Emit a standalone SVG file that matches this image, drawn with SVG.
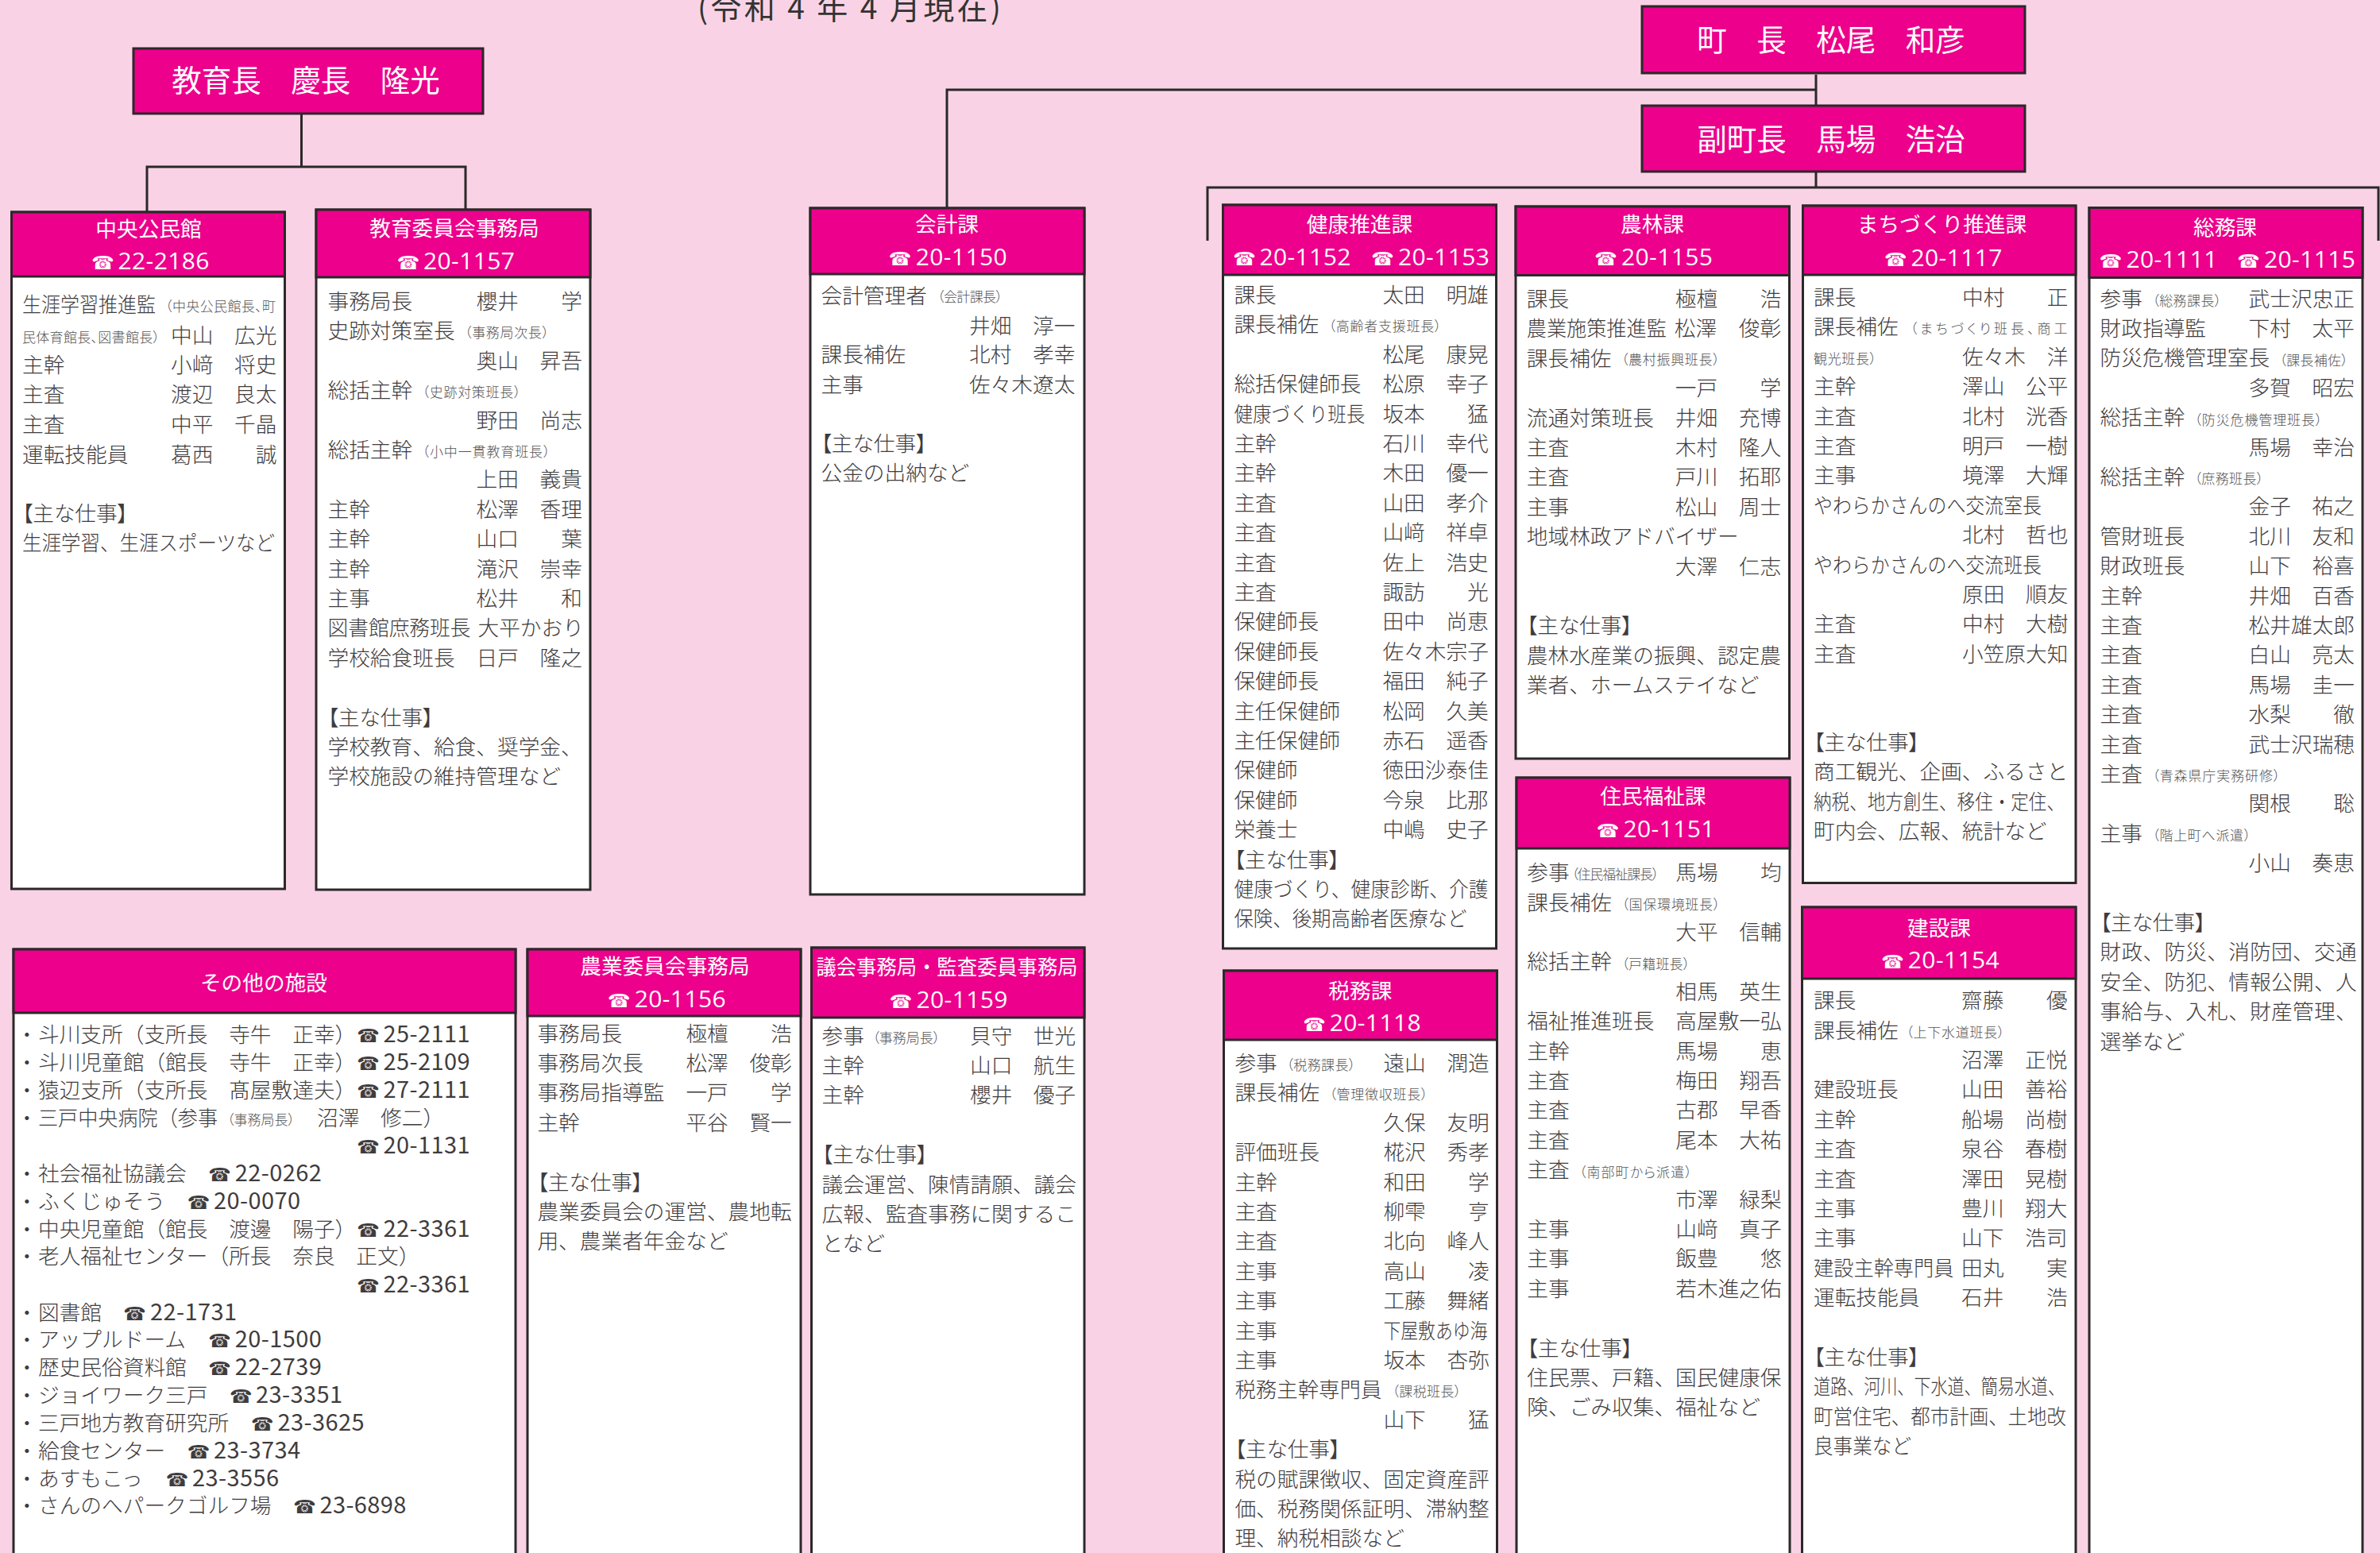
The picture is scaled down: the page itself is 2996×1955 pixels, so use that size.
<svg xmlns="http://www.w3.org/2000/svg" width="2996" height="1955" viewBox="0 0 2996 1955">
<style>
text{font-family:"Noto Sans CJK JP","Noto Sans",sans-serif}
.bg{fill:#f9d3e5}
.h{fill:#ec008c;stroke:#2b2829;stroke-width:3}
.w{fill:#fff;stroke:#2b2829;stroke-width:3}
.c{fill:none;stroke:#2b2829;stroke-width:3}
.top{font-size:37.5px;fill:#fff;text-anchor:middle}
.n{font-size:26.7px;fill:#fff;text-anchor:middle}
.p{font-size:30px;fill:#fff;font-family:"Open Sans","Noto Sans",sans-serif;letter-spacing:.4px}
.t{font-family:"DejaVu Sans",sans-serif;font-size:23px}
.b{font-size:26.7px;fill:#3f3c3d;font-weight:300}
.s{font-size:17px;fill:#555;font-feature-settings:"palt"}
.m{font-feature-settings:"palt"}
.q{font-size:29px;fill:#3f3c3d;font-family:"Open Sans","Noto Sans",sans-serif;letter-spacing:.4px}
</style>
<rect class="bg" width="2996" height="1955"/>
<g id="connectors">
<path class="c" d="M379.5 143V210M185 267V210H586V264"/>
<path class="c" d="M2286 94V133M2286 113H1192V262"/>
<path class="c" d="M2286 216V236M1520 303V236H2994V303"/>
</g>
<g id="title"><text x="878" y="24" font-size="39" fill="#333" textLength="382">(令和 4 年 4 月現在)</text></g>
<g id="kyoikucho"><rect class="h" x="168" y="61" width="440" height="82"/><text class="top" x="385" y="115">教育長　慶長　隆光</text></g>
<g id="chocho"><rect class="h" x="2067" y="8" width="482" height="84"/><text class="top" x="2305" y="64">町　長　松尾　和彦</text></g>
<g id="fukuchocho"><rect class="h" x="2067" y="133" width="482" height="83"/><text class="top" x="2305" y="189">副町長　馬場　浩治</text></g>

<g id="chuo-kominkan"><rect class="w" x="14.5" y="267" width="344" height="852"/><rect class="h" x="14.5" y="267" width="344" height="81"/>
<text class="n" x="187" y="298">中央公民館</text><text class="p" y="339"><tspan class="t" x="115">☎</tspan><tspan x="148.5">22-2186</tspan></text>
<g class="b" transform="translate(28,0)">
<text y="393"><tspan textLength="168" lengthAdjust="spacingAndGlyphs">生涯学習推進監</tspan></text><text class="s" x="180" y="392" textLength="139">（中央公民館長、町</text>
<text class="s" y="431" textLength="173">民体育館長、図書館長）</text><text y="432"><tspan x="187">中山</tspan><tspan x="267">広光</tspan></text>
<text y="469">主幹<tspan x="187">小﨑</tspan><tspan x="267">将史</tspan></text>
<text y="506">主査<tspan x="187">渡辺</tspan><tspan x="267">良太</tspan></text>
<text y="544">主査<tspan x="187">中平</tspan><tspan x="267">千晶</tspan></text>
<text y="582">運転技能員<tspan x="187">葛西</tspan><tspan x="293.7">誠</tspan></text>
<text class="m" y="656">【主な仕事】</text>
<text y="693" textLength="318" lengthAdjust="spacingAndGlyphs">生涯学習、生涯スポーツなど</text>
</g></g>

<g id="kyoiku-iinkai"><rect class="w" x="398" y="264" width="345" height="856"/><rect class="h" x="398" y="264" width="345" height="85"/>
<text class="n" x="572" y="297">教育委員会事務局</text><text class="p" y="339"><tspan class="t" x="499.5">☎</tspan><tspan x="533">20-1157</tspan></text>
<g class="b" transform="translate(412.5,-1)">
<text y="390">事務局長<tspan x="187">櫻井</tspan><tspan x="293.7">学</tspan></text>
<text y="427.4">史跡対策室長</text><text class="s" x="172.5" y="426" textLength="106">（事務局次長）</text>
<text y="464.8"><tspan x="187">奥山</tspan><tspan x="267">昇吾</tspan></text>
<text y="502.2">総括主幹</text><text class="s" x="119" y="501" textLength="124">（史跡対策班長）</text>
<text y="539.6"><tspan x="187">野田</tspan><tspan x="267">尚志</tspan></text>
<text y="577">総括主幹</text><text class="s" x="119" y="576" textLength="161">（小中一貫教育班長）</text>
<text y="614.4"><tspan x="187">上田</tspan><tspan x="267">義貴</tspan></text>
<text y="651.8">主幹<tspan x="187">松澤</tspan><tspan x="267">香理</tspan></text>
<text y="689.2">主幹<tspan x="187">山口</tspan><tspan x="293.7">葉</tspan></text>
<text y="726.6">主幹<tspan x="187">滝沢</tspan><tspan x="267">崇幸</tspan></text>
<text y="764">主事<tspan x="187">松井</tspan><tspan x="293.7">和</tspan></text>
<text y="801.4"><tspan textLength="180" lengthAdjust="spacingAndGlyphs">図書館庶務班長</tspan><tspan x="189">大平かおり</tspan></text>
<text y="838.8">学校給食班長<tspan x="187">日戸</tspan><tspan x="267">隆之</tspan></text>
<text class="m" y="913.6">【主な仕事】</text>
<text y="951">学校教育、給食、奨学金、</text>
<text y="988.4">学校施設の維持管理など</text>
</g></g>

<g id="kaikei"><rect class="w" x="1020" y="262" width="345" height="864"/><rect class="h" x="1020" y="262" width="345" height="83"/>
<text class="n" x="1192" y="292">会計課</text><text class="p" y="334"><tspan class="t" x="1118.5">☎</tspan><tspan x="1152.7">20-1150</tspan></text>
<g class="b" transform="translate(1033.5,-1)">
<text y="382.5">会計管理者</text><text class="s" x="146.5" y="381" textLength="82">（会計課長）</text>
<text y="421"><tspan x="186.5">井畑</tspan><tspan x="266.5">淳一</tspan></text>
<text y="456.5">課長補佐<tspan x="186.5">北村</tspan><tspan x="266.5">孝幸</tspan></text>
<text y="495">主事<tspan x="186.5">佐々木遼太</tspan></text>
<text class="m" y="569">【主な仕事】</text>
<text y="606">公金の出納など</text>
</g></g>

<g id="kenko"><rect class="w" x="1539.5" y="258" width="344" height="936"/><rect class="h" x="1539.5" y="258" width="344" height="88"/>
<text class="n" x="1711.5" y="292">健康推進課</text><text class="p" y="334"><tspan class="t" x="1552">☎</tspan><tspan x="1585.4">20-1152</tspan><tspan class="t" x="1726">☎</tspan><tspan x="1760">20-1153</tspan></text>
<g class="b" transform="translate(1553.4,-1)">
<text y="382">課長<tspan x="187">太田</tspan><tspan x="267">明雄</tspan></text>
<text y="419.4">課長補佐</text><text class="s" x="119" y="418" textLength="142">（高齢者支援班長）</text>
<text y="456.8"><tspan x="187">松尾</tspan><tspan x="267">康晃</tspan></text>
<text y="494.2">総括保健師長<tspan x="187">松原</tspan><tspan x="267">幸子</tspan></text>
<text y="531.6"><tspan textLength="165" lengthAdjust="spacingAndGlyphs">健康づくり班長</tspan><tspan x="187">坂本</tspan><tspan x="293.7">猛</tspan></text>
<text y="569">主幹<tspan x="187">石川</tspan><tspan x="267">幸代</tspan></text>
<text y="606.4">主幹<tspan x="187">木田</tspan><tspan x="267">優一</tspan></text>
<text y="643.8">主査<tspan x="187">山田</tspan><tspan x="267">孝介</tspan></text>
<text y="681.2">主査<tspan x="187">山﨑</tspan><tspan x="267">祥卓</tspan></text>
<text y="718.6">主査<tspan x="187">佐上</tspan><tspan x="267">浩史</tspan></text>
<text y="756">主査<tspan x="187">諏訪</tspan><tspan x="293.7">光</tspan></text>
<text y="793.4">保健師長<tspan x="187">田中</tspan><tspan x="267">尚恵</tspan></text>
<text y="830.8">保健師長<tspan x="187">佐々木宗子</tspan></text>
<text y="868.2">保健師長<tspan x="187">福田</tspan><tspan x="267">純子</tspan></text>
<text y="905.6">主任保健師<tspan x="187">松岡</tspan><tspan x="267">久美</tspan></text>
<text y="943">主任保健師<tspan x="187">赤石</tspan><tspan x="267">遥香</tspan></text>
<text y="980.4">保健師<tspan x="187">徳田沙泰佳</tspan></text>
<text y="1017.8">保健師<tspan x="187">今泉</tspan><tspan x="267">比那</tspan></text>
<text y="1055.2">栄養士<tspan x="187">中嶋</tspan><tspan x="267">史子</tspan></text>
<text class="m" y="1092.6">【主な仕事】</text>
<text y="1130" textLength="320" lengthAdjust="spacingAndGlyphs">健康づくり、健康診断、介護</text>
<text y="1167.4" textLength="293" lengthAdjust="spacingAndGlyphs">保険、後期高齢者医療など</text>
</g></g>

<g id="zeimu"><rect class="w" x="1540.5" y="1222" width="344" height="745"/><rect class="h" x="1540.5" y="1222" width="344" height="87"/>
<text class="n" x="1712.4" y="1257">税務課</text><text class="p" y="1297.5"><tspan class="t" x="1640">☎</tspan><tspan x="1673.7">20-1118</tspan></text>
<g class="b" transform="translate(1554.4,-1)">
<text y="1349">参事<tspan x="187">遠山</tspan><tspan x="267">潤造</tspan></text><text class="s" x="65" y="1348" textLength="87">（税務課長）</text>
<text y="1386.4">課長補佐</text><text class="s" x="119" y="1385" textLength="124">（管理徴収班長）</text>
<text y="1423.8"><tspan x="187">久保</tspan><tspan x="267">友明</tspan></text>
<text y="1461.2">評価班長<tspan x="187">椛沢</tspan><tspan x="267">秀孝</tspan></text>
<text y="1498.6">主幹<tspan x="187">和田</tspan><tspan x="293.7">学</tspan></text>
<text y="1536">主査<tspan x="187">柳雫</tspan><tspan x="293.7">亨</tspan></text>
<text y="1573.4">主査<tspan x="187">北向</tspan><tspan x="267">峰人</tspan></text>
<text y="1610.8">主事<tspan x="187">高山</tspan><tspan x="293.7">凌</tspan></text>
<text y="1648.2">主事<tspan x="187">工藤</tspan><tspan x="267">舞緒</tspan></text>
<text y="1685.6">主事<tspan x="187" textLength="131" lengthAdjust="spacingAndGlyphs">下屋敷あゆ海</tspan></text>
<text y="1723">主事<tspan x="187">坂本</tspan><tspan x="267">杏弥</tspan></text>
<text y="1760.4" textLength="185" lengthAdjust="spacingAndGlyphs">税務主幹専門員</text><text class="s" x="198" y="1759" textLength="87">（課税班長）</text>
<text y="1797.8"><tspan x="187">山下</tspan><tspan x="293.7">猛</tspan></text>
<text class="m" y="1835.2">【主な仕事】</text>
<text y="1872.6">税の賦課徴収、固定資産評</text>
<text y="1910">価、税務関係証明、滞納整</text>
<text y="1947.4">理、納税相談など</text>
</g></g>

<g id="norin"><rect class="w" x="1908" y="260" width="344.5" height="695"/><rect class="h" x="1908" y="260" width="344.5" height="86.5"/>
<text class="n" x="2080" y="292">農林課</text><text class="p" y="334"><tspan class="t" x="2007">☎</tspan><tspan x="2041">20-1155</tspan></text>
<g class="b" transform="translate(1921.8,-1)">
<text y="387">課長<tspan x="187">極檀</tspan><tspan x="293.7">浩</tspan></text>
<text y="424.4"><tspan textLength="176" lengthAdjust="spacingAndGlyphs">農業施策推進監</tspan><tspan x="186">松澤</tspan><tspan x="267">俊彰</tspan></text>
<text y="461.8">課長補佐</text><text class="s" x="119" y="460" textLength="124">（農村振興班長）</text>
<text y="499.2"><tspan x="187">一戸</tspan><tspan x="293.7">学</tspan></text>
<text y="536.6">流通対策班長<tspan x="187">井畑</tspan><tspan x="267">充博</tspan></text>
<text y="574">主査<tspan x="187">木村</tspan><tspan x="267">隆人</tspan></text>
<text y="611.4">主査<tspan x="187">戸川</tspan><tspan x="267">拓耶</tspan></text>
<text y="648.8">主事<tspan x="187">松山</tspan><tspan x="267">周士</tspan></text>
<text y="686.2">地域林政アドバイザー</text>
<text y="723.6"><tspan x="187">大澤</tspan><tspan x="267">仁志</tspan></text>
<text class="m" y="798.4">【主な仕事】</text>
<text y="835.8">農林水産業の振興、認定農</text>
<text y="873.2">業者、ホームステイなど</text>
</g></g>

<g id="jumin"><rect class="w" x="1909" y="979" width="344" height="988"/><rect class="h" x="1909" y="979" width="344" height="89"/>
<text class="n" x="2081" y="1012">住民福祉課</text><text class="p" y="1054"><tspan class="t" x="2009.6">☎</tspan><tspan x="2043.5">20-1151</tspan></text>
<g class="b" transform="translate(1922.3,-.5)">
<text y="1108.7">参事<tspan x="187">馬場</tspan><tspan x="293.7">均</tspan></text><text class="s" x="56" y="1107.5" textLength="110">（住民福祉課長）</text>
<text y="1146.1">課長補佐</text><text class="s" x="119" y="1145" textLength="124">（国保環境班長）</text>
<text y="1183.5"><tspan x="187">大平</tspan><tspan x="267">信輔</tspan></text>
<text y="1220.9">総括主幹</text><text class="s" x="119" y="1220" textLength="86">（戸籍班長）</text>
<text y="1258.3"><tspan x="187">相馬</tspan><tspan x="267">英生</tspan></text>
<text y="1295.7">福祉推進班長<tspan x="187">高屋敷一弘</tspan></text>
<text y="1333.1">主幹<tspan x="187">馬場</tspan><tspan x="293.7">恵</tspan></text>
<text y="1370.5">主査<tspan x="187">梅田</tspan><tspan x="267">翔吾</tspan></text>
<text y="1407.9">主査<tspan x="187">古郡</tspan><tspan x="267">早香</tspan></text>
<text y="1445.3">主査<tspan x="187">尾本</tspan><tspan x="267">大祐</tspan></text>
<text y="1482.7">主査</text><text class="s" x="65.5" y="1482" textLength="142">（南部町から派遣）</text>
<text y="1520.1"><tspan x="187">市澤</tspan><tspan x="267">緑梨</tspan></text>
<text y="1557.5">主事<tspan x="187">山﨑</tspan><tspan x="267">真子</tspan></text>
<text y="1594.9">主事<tspan x="187">飯豊</tspan><tspan x="293.7">悠</tspan></text>
<text y="1632.3">主事<tspan x="187">若木進之佑</tspan></text>
<text class="m" y="1707.1">【主な仕事】</text>
<text y="1744.5">住民票、戸籍、国民健康保</text>
<text y="1781.9">険、ごみ収集、福祉など</text>
</g></g>

<g id="machizukuri"><rect class="w" x="2269.5" y="259" width="343.5" height="852.5"/><rect class="h" x="2269.5" y="259" width="343.5" height="87"/>
<text class="n" x="2444.5" y="292">まちづくり推進課</text><text class="p" y="334.5"><tspan class="t" x="2371.7">☎</tspan><tspan x="2405.5">20-1117</tspan></text>
<g class="b" transform="translate(2283,-.5)">
<text y="384.5">課長<tspan x="187">中村</tspan><tspan x="293.7">正</tspan></text>
<text y="421.9">課長補佐</text><text class="s" x="121.6" y="420.5" textLength="198">（まちづくり班長、商工</text>
<text class="s" y="458" textLength="79">観光班長）</text><text y="459.3"><tspan x="187">佐々木</tspan><tspan x="293.7">洋</tspan></text>
<text y="496.7">主幹<tspan x="187">澤山</tspan><tspan x="267">公平</tspan></text>
<text y="534.1">主査<tspan x="187">北村</tspan><tspan x="267">洸香</tspan></text>
<text y="571.5">主査<tspan x="187">明戸</tspan><tspan x="267">一樹</tspan></text>
<text y="608.9">主事<tspan x="187">境澤</tspan><tspan x="267">大輝</tspan></text>
<text y="646.3" textLength="287" lengthAdjust="spacingAndGlyphs">やわらかさんのへ交流室長</text>
<text y="683.7"><tspan x="187">北村</tspan><tspan x="267">哲也</tspan></text>
<text y="721.1" textLength="287" lengthAdjust="spacingAndGlyphs">やわらかさんのへ交流班長</text>
<text y="758.5"><tspan x="187">原田</tspan><tspan x="267">順友</tspan></text>
<text y="795.9">主査<tspan x="187">中村</tspan><tspan x="267">大樹</tspan></text>
<text y="833.3">主査<tspan x="187">小笠原大知</tspan></text>
<text class="m" y="944.5">【主な仕事】</text>
<text y="981.5">商工観光、企画、ふるさと</text>
<text y="1019" textLength="316" lengthAdjust="spacingAndGlyphs">納税、地方創生、移住・定住、</text>
<text y="1056">町内会、広報、統計など</text>
</g></g>

<g id="kensetsu"><rect class="w" x="2268.5" y="1142" width="344.5" height="825"/><rect class="h" x="2268.5" y="1142" width="344.5" height="90"/>
<text class="n" x="2441" y="1178">建設課</text><text class="p" y="1219"><tspan class="t" x="2368">☎</tspan><tspan x="2401.8">20-1154</tspan></text>
<g class="b" transform="translate(2283,-.5)">
<text y="1269.6">課長<tspan x="186">齋藤</tspan><tspan x="293">優</tspan></text>
<text y="1307">課長補佐</text><text class="s" x="116.4" y="1306" textLength="124">（上下水道班長）</text>
<text y="1344.4"><tspan x="186">沼澤</tspan><tspan x="266">正悦</tspan></text>
<text y="1381.8">建設班長<tspan x="186">山田</tspan><tspan x="266">善裕</tspan></text>
<text y="1419.2">主幹<tspan x="186">船場</tspan><tspan x="266">尚樹</tspan></text>
<text y="1456.6">主査<tspan x="186">泉谷</tspan><tspan x="266">春樹</tspan></text>
<text y="1494">主査<tspan x="186">澤田</tspan><tspan x="266">晃樹</tspan></text>
<text y="1531.4">主事<tspan x="186">豊川</tspan><tspan x="266">翔大</tspan></text>
<text y="1568.8">主事<tspan x="186">山下</tspan><tspan x="266">浩司</tspan></text>
<text y="1606.2"><tspan textLength="176.5" lengthAdjust="spacingAndGlyphs">建設主幹専門員</tspan><tspan x="186">田丸</tspan><tspan x="293">実</tspan></text>
<text y="1643.6">運転技能員<tspan x="186">石井</tspan><tspan x="293">浩</tspan></text>
<text class="m" y="1718.4">【主な仕事】</text>
<text y="1755.8" textLength="316" lengthAdjust="spacingAndGlyphs">道路、河川、下水道、簡易水道、</text>
<text y="1793.2" textLength="318" lengthAdjust="spacingAndGlyphs">町営住宅、都市計画、土地改</text>
<text y="1830.6" textLength="123" lengthAdjust="spacingAndGlyphs">良事業など</text>
</g></g>

<g id="somu"><rect class="w" x="2630" y="261.5" width="344" height="1706"/><rect class="h" x="2630" y="261.5" width="344" height="88"/>
<text class="n" x="2801" y="296">総務課</text><text class="p" y="337"><tspan class="t" x="2642.6">☎</tspan><tspan x="2676.4">20-1111</tspan><tspan class="t" x="2816">☎</tspan><tspan x="2850">20-1115</tspan></text>
<g class="b" transform="translate(2643.6,-.5)">
<text y="386">参事<tspan x="187">武士沢忠正</tspan></text><text class="s" x="65.7" y="385" textLength="87">（総務課長）</text>
<text y="423.4">財政指導監<tspan x="187">下村</tspan><tspan x="267">太平</tspan></text>
<text y="460.8">防災危機管理室長</text><text class="s" x="225.8" y="460" textLength="86.4">（課長補佐）</text>
<text y="498.2"><tspan x="187">多賀</tspan><tspan x="267">昭宏</tspan></text>
<text y="535.6">総括主幹</text><text class="s" x="118.8" y="535" textLength="161">（防災危機管理班長）</text>
<text y="573"><tspan x="187">馬場</tspan><tspan x="267">幸治</tspan></text>
<text y="610.4">総括主幹</text><text class="s" x="118.8" y="609.5" textLength="87">（庶務班長）</text>
<text y="647.8"><tspan x="187">金子</tspan><tspan x="267">祐之</tspan></text>
<text y="685.2">管財班長<tspan x="187">北川</tspan><tspan x="267">友和</tspan></text>
<text y="722.6">財政班長<tspan x="187">山下</tspan><tspan x="267">裕喜</tspan></text>
<text y="760">主幹<tspan x="187">井畑</tspan><tspan x="267">百香</tspan></text>
<text y="797.4">主査<tspan x="187">松井雄太郎</tspan></text>
<text y="834.8">主査<tspan x="187">白山</tspan><tspan x="267">亮太</tspan></text>
<text y="872.2">主査<tspan x="187">馬場</tspan><tspan x="267">圭一</tspan></text>
<text y="909.6">主査<tspan x="187">水梨</tspan><tspan x="293.7">徹</tspan></text>
<text y="947">主査<tspan x="187">武士沢瑞穂</tspan></text>
<text y="984.4">主査</text><text class="s" x="65.7" y="983.5" textLength="161">（青森県庁実務研修）</text>
<text y="1021.8"><tspan x="187">関根</tspan><tspan x="293.7">聡</tspan></text>
<text y="1059.2">主事</text><text class="s" x="65.7" y="1058.5" textLength="124">（階上町へ派遣）</text>
<text y="1096.6"><tspan x="187">小山</tspan><tspan x="267">奏恵</tspan></text>
<text class="m" y="1171.4">【主な仕事】</text>
<text y="1208.8" textLength="323">財政、防災、消防団、交通</text>
<text y="1246.2" textLength="323">安全、防犯、情報公開、人</text>
<text y="1283.6" textLength="323">事給与、入札、財産管理、</text>
<text y="1321">選挙など</text>
</g></g>

<g id="sonota"><rect class="w" x="17" y="1195" width="632" height="772"/><rect class="h" x="17" y="1195" width="632" height="80"/>
<text class="n" x="332" y="1247">その他の施設</text>
<g class="b" transform="translate(20.5,0)">
<text y="1312">・<tspan x="27.5">斗川支所（支所長　寺牛　正幸）</tspan></text>
<text y="1346.9">・<tspan x="27.5">斗川児童館（館長　寺牛　正幸）</tspan></text>
<text y="1381.7">・<tspan x="27.5">猿辺支所（支所長　髙屋敷達夫）</tspan></text>
<text y="1416.6">・<tspan x="27.5" textLength="226" lengthAdjust="spacingAndGlyphs">三戸中央病院（参事</tspan><tspan x="378.5">沼澤　修二）</tspan></text><text class="s" x="265.5" y="1415.5" textLength="85">（事務局長）</text>
<text y="1487.3">・<tspan x="27.5">社会福祉協議会</tspan></text>
<text y="1522.1">・<tspan x="27.5">ふくじゅそう</tspan></text>
<text y="1557">・<tspan x="27.5">中央児童館（館長　渡邊　陽子）</tspan></text>
<text y="1591.3">・<tspan x="27.5">老人福祉センター（所長　奈良　正文）</tspan></text>
<text y="1661.5">・<tspan x="27.5">図書館</tspan></text>
<text y="1696.4">・<tspan x="27.5">アップルドーム</tspan></text>
<text y="1731.2">・<tspan x="27.5">歴史民俗資料館</tspan></text>
<text y="1765.6">・<tspan x="27.5">ジョイワーク三戸</tspan></text>
<text y="1800.9">・<tspan x="27.5">三戸地方教育研究所</tspan></text>
<text y="1835.8">・<tspan x="27.5">給食センター</tspan></text>
<text y="1870.6">・<tspan x="27.5">あすもこっ</tspan></text>
<text y="1904.5">・<tspan x="27.5">さんのへパークゴルフ場</tspan></text>
</g>
<g class="q">
<text y="1312"><tspan class="t" x="449">☎</tspan><tspan x="482.6">25-2111</tspan></text>
<text y="1346.9"><tspan class="t" x="449">☎</tspan><tspan x="482.6">25-2109</tspan></text>
<text y="1381.7"><tspan class="t" x="449">☎</tspan><tspan x="482.6">27-2111</tspan></text>
<text y="1452.4"><tspan class="t" x="449">☎</tspan><tspan x="482.6">20-1131</tspan></text>
<text y="1487.3"><tspan class="t" x="262">☎</tspan><tspan x="295.7">22-0262</tspan></text>
<text y="1522.1"><tspan class="t" x="235.5">☎</tspan><tspan x="269">20-0070</tspan></text>
<text y="1557"><tspan class="t" x="449">☎</tspan><tspan x="482.6">22-3361</tspan></text>
<text y="1626.7"><tspan class="t" x="449">☎</tspan><tspan x="482.6">22-3361</tspan></text>
<text y="1661.5"><tspan class="t" x="155">☎</tspan><tspan x="189">22-1731</tspan></text>
<text y="1696.4"><tspan class="t" x="262">☎</tspan><tspan x="295.7">20-1500</tspan></text>
<text y="1731.2"><tspan class="t" x="262">☎</tspan><tspan x="295.7">22-2739</tspan></text>
<text y="1765.6"><tspan class="t" x="288.8">☎</tspan><tspan x="322">23-3351</tspan></text>
<text y="1800.9"><tspan class="t" x="315.7">☎</tspan><tspan x="349.5">23-3625</tspan></text>
<text y="1835.8"><tspan class="t" x="235.5">☎</tspan><tspan x="269">23-3734</tspan></text>
<text y="1870.6"><tspan class="t" x="208.6">☎</tspan><tspan x="242">23-3556</tspan></text>
<text y="1904.5"><tspan class="t" x="369">☎</tspan><tspan x="402.4">23-6898</tspan></text>
</g></g>

<g id="nogyo-iinkai"><rect class="w" x="664" y="1195" width="344" height="772"/><rect class="h" x="664" y="1195" width="344" height="84"/>
<text class="n" x="837" y="1226">農業委員会事務局</text><text class="p" y="1267.6"><tspan class="t" x="764.7">☎</tspan><tspan x="798.7">20-1156</tspan></text>
<g class="b" transform="translate(676.4,-.5)">
<text y="1311">事務局長<tspan x="187">極檀</tspan><tspan x="293.7">浩</tspan></text>
<text y="1348.4">事務局次長<tspan x="187">松澤</tspan><tspan x="267">俊彰</tspan></text>
<text y="1385.8">事務局指導監<tspan x="187">一戸</tspan><tspan x="293.7">学</tspan></text>
<text y="1423.2">主幹<tspan x="187">平谷</tspan><tspan x="267">賢一</tspan></text>
<text class="m" y="1498">【主な仕事】</text>
<text y="1535.4">農業委員会の運営、農地転</text>
<text y="1572.8">用、農業者年金など</text>
</g></g>

<g id="gikai"><rect class="w" x="1021.5" y="1193" width="343.5" height="774"/><rect class="h" x="1021.5" y="1193" width="343.5" height="88"/>
<text class="n" x="1192" y="1227" textLength="329" lengthAdjust="spacingAndGlyphs">議会事務局・監査委員事務局</text><text class="p" y="1268.6"><tspan class="t" x="1119.6">☎</tspan><tspan x="1153.5">20-1159</tspan></text>
<g class="b" transform="translate(1034.6,-.5)">
<text y="1314">参事<tspan x="186.4">貝守</tspan><tspan x="266.2">世光</tspan></text><text class="s" x="63.7" y="1313" textLength="85">（事務局長）</text>
<text y="1351.4">主幹<tspan x="186.4">山口</tspan><tspan x="266.2">航生</tspan></text>
<text y="1388.8">主幹<tspan x="186.4">櫻井</tspan><tspan x="266.2">優子</tspan></text>
<text class="m" y="1463.6">【主な仕事】</text>
<text y="1501">議会運営、陳情請願、議会</text>
<text y="1538.4">広報、監査事務に関するこ</text>
<text y="1575.8">となど</text>
</g></g>
</svg>
